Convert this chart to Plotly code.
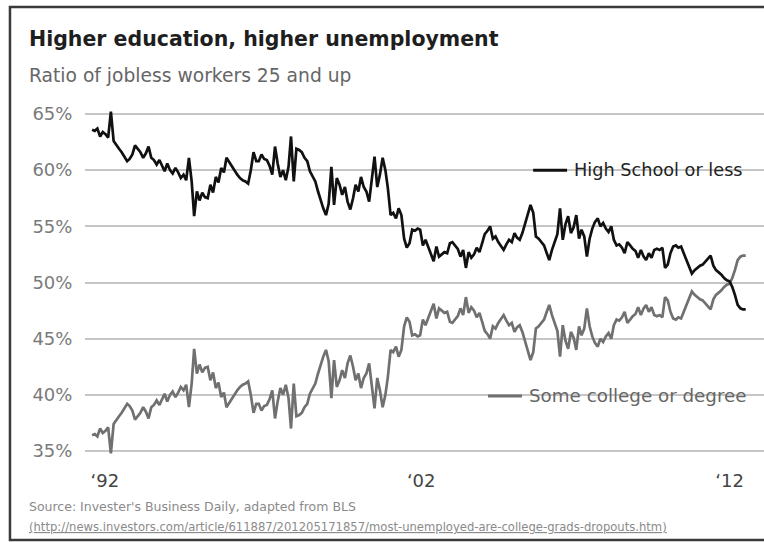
import pandas as pd
import plotly.graph_objects as go

# monthly values, Jan 1992 onward
high_school = [
    63.6, 63.5, 63.7, 63.0, 63.4, 63.2, 62.9, 65.2, 62.6, 62.2,
    61.9, 61.6, 61.2, 60.8, 61.0, 61.4, 62.2, 61.9, 61.6, 61.1,
    61.5, 62.1, 61.1, 60.9, 60.5, 60.9, 60.4, 59.9, 60.6, 60.0,
    59.7, 60.2, 59.8, 59.3, 59.6, 59.1, 61.1, 59.0, 55.9, 58.1,
    57.3, 58.0, 57.6, 57.5, 58.7, 58.0, 59.4, 58.9, 60.2, 59.8,
    61.1, 60.7, 60.3, 59.9, 59.6, 59.3, 59.1, 59.0, 58.8, 60.0,
    61.6, 60.8, 60.8, 61.4, 61.0, 60.9, 60.4, 59.6, 62.1, 60.6,
    59.4, 60.0, 59.1, 60.3, 63.0, 59.0, 61.9, 61.8, 61.6, 61.1,
    60.8, 59.9, 59.4, 59.0, 58.1, 57.2, 56.6, 56.0, 57.0, 60.3,
    56.9, 59.3, 58.7, 57.8, 58.5, 57.2, 56.5, 57.5, 58.7, 58.1,
    59.4, 58.5, 58.1, 57.2, 59.0, 61.2, 58.5, 59.6, 61.1, 60.0,
    58.4, 56.0, 56.2, 55.7, 56.6, 56.0, 53.9, 53.1, 53.5, 54.7,
    54.6, 54.8, 54.7, 53.3, 53.8, 53.1, 52.5, 51.9, 53.2, 52.3,
    52.5, 52.7, 52.6, 53.5, 53.6, 53.3, 53.0, 52.3, 52.9, 51.3,
    52.7, 52.2, 52.5, 53.1, 52.7, 53.5, 54.3, 54.6, 55.0, 53.9,
    54.1, 53.6, 53.2, 52.9, 53.4, 53.8, 53.6, 54.4, 54.0, 53.8,
    54.4, 55.2, 55.9, 56.9, 56.2, 54.1, 53.9, 53.6, 53.3, 52.6,
    52.0, 52.9, 53.6, 54.3, 56.6, 53.8, 55.2, 55.9, 54.4, 54.9,
    56.0, 53.9, 54.7, 54.1, 52.3, 53.9, 54.8, 55.4, 55.7, 55.0,
    55.3, 54.8, 54.5, 55.0, 53.8, 53.3, 53.4, 53.1, 52.6, 53.6,
    53.3, 53.0, 52.8, 52.2, 52.9, 52.3, 52.0, 52.6, 52.2, 52.9,
    53.0, 52.9, 53.1, 51.3, 51.6, 52.6, 53.2, 53.3, 53.1, 53.2,
    52.6, 52.0, 51.3, 50.8, 51.1, 51.3, 51.5, 51.6, 51.9, 52.2,
    52.4, 51.5, 51.1, 50.9, 50.7, 50.4, 50.2, 50.1, 49.6, 48.9,
    48.0, 47.7, 47.6, 47.6,
]

some_college = [
    36.4, 36.5, 36.3, 37.0, 36.6, 36.8, 37.1, 34.8, 37.4, 37.8,
    38.1, 38.4, 38.8, 39.2, 39.0, 38.6, 37.8, 38.1, 38.4, 38.9,
    38.5, 37.9, 38.9, 39.1, 39.5, 39.1, 39.6, 40.1, 39.4, 40.0,
    40.3, 39.8, 40.2, 40.7, 40.4, 40.9, 38.9, 41.0, 44.1, 41.9,
    42.7, 42.0, 42.4, 42.5, 41.3, 42.0, 40.6, 41.1, 39.8, 40.2,
    38.9, 39.3, 39.7, 40.1, 40.4, 40.7, 40.9, 41.0, 41.2, 40.0,
    38.4, 39.2, 39.2, 38.6, 39.0, 39.1, 39.6, 40.4, 37.9, 39.4,
    40.6, 40.0, 40.9, 39.7, 37.0, 41.0, 38.1, 38.2, 38.4, 38.9,
    39.2, 40.1, 40.6, 41.0, 41.9, 42.8, 43.4, 44.0, 43.0, 39.7,
    43.1, 40.7, 41.3, 42.2, 41.5, 42.8, 43.5, 42.5, 41.3, 41.9,
    40.6, 41.5, 41.9, 42.8, 41.0, 38.8, 41.5, 40.4, 38.9, 40.0,
    41.6, 44.0, 43.8, 44.3, 43.4, 44.0, 46.1, 46.9, 46.5, 45.3,
    45.4, 45.2, 45.3, 46.7, 46.2, 46.9, 47.5, 48.1, 46.8, 47.7,
    47.5, 47.3, 47.4, 46.5, 46.4, 46.7, 47.0, 47.7, 47.1, 48.7,
    47.3, 47.8, 47.5, 46.9, 47.3, 46.5, 45.7, 45.4, 45.0, 46.1,
    45.9, 46.4, 46.8, 47.1, 46.6, 46.2, 46.4, 45.6, 46.0, 46.2,
    45.6, 44.8, 44.1, 43.1, 43.8, 45.9, 46.1, 46.4, 46.7, 47.4,
    48.0, 47.1, 46.4, 45.7, 43.4, 46.2, 44.8, 44.1, 45.6, 45.1,
    44.0, 46.1, 45.3, 45.9, 47.7, 46.1, 45.2, 44.6, 44.3, 45.0,
    44.7, 45.2, 45.5, 45.0, 46.2, 46.7, 46.6, 46.9, 47.4, 46.4,
    46.7, 47.0, 47.2, 47.8, 47.1, 47.7, 48.0, 47.4, 47.8, 47.1,
    47.0, 47.1, 46.9, 48.7, 48.4, 47.4, 46.8, 46.7, 46.9, 46.8,
    47.4, 48.0, 48.7, 49.2, 48.9, 48.7, 48.5, 48.4, 48.1, 47.8,
    47.6, 48.5, 48.9, 49.1, 49.3, 49.6, 49.8, 49.9, 50.4, 51.1,
    52.0, 52.3, 52.4, 52.4,
]

months = pd.date_range("1992-01-01", periods=len(high_school), freq="MS")

y_ticks = [35, 40, 45, 50, 55, 60, 65]
y_labels = ["35%", "40%", "45%", "50%", "55%", "60%", "65%"]
x_ticks = ["1992-05-25", "2002-03-13", "2011-10-01"]
x_labels = ["\u201892", "\u201802", "\u201812"]

FONT = "DejaVu Sans, Arial, sans-serif"

fig = go.Figure()
fig.add_trace(go.Scatter(x=months, y=some_college, mode="lines", name="Some college or degree",
                         line=dict(color="#707070", width=2.7)))
fig.add_trace(go.Scatter(x=months, y=high_school, mode="lines", name="High School or less",
                         line=dict(color="#111111", width=2.7)))

# white patches behind the inline labels, they cut the gridlines
fig.add_shape(type="rect", xref="paper", yref="y", x0=0.623, x1=1.0, y0=59.1, y1=60.9,
              fillcolor="white", line_width=0, layer="between")
fig.add_shape(type="rect", xref="paper", yref="y", x0=0.557, x1=1.0, y0=39.1, y1=40.9,
              fillcolor="white", line_width=0, layer="between")
fig.add_shape(type="line", xref="paper", yref="y", x0=0.660, x1=0.710, y0=60, y1=60,
              line=dict(color="#111111", width=3))
fig.add_shape(type="line", xref="paper", yref="y", x0=0.5935, x1=0.6436, y0=39.9, y1=39.9,
              line=dict(color="#707070", width=3))
fig.add_annotation(x=0.717, y=60, xref="paper", yref="y", xanchor="left", yanchor="middle",
                   text="High School or less", showarrow=False,
                   font=dict(family=FONT, size=17.7, color="#222222"))
fig.add_annotation(x=0.651, y=39.9, xref="paper", yref="y", xanchor="left", yanchor="middle",
                   text="Some college or degree", showarrow=False,
                   font=dict(family=FONT, size=18.3, color="#666666"))

# titles and source
fig.add_annotation(x=-0.0855, y=1.186, xref="paper", yref="paper", xanchor="left", yanchor="middle",
                   text="<b>Higher education, higher unemployment</b>", showarrow=False,
                   font=dict(family=FONT, size=20.5, color="#1e1e1e"))
fig.add_annotation(x=-0.0855, y=1.082, xref="paper", yref="paper", xanchor="left", yanchor="middle",
                   text="Ratio of jobless workers 25 and up", showarrow=False,
                   font=dict(family=FONT, size=18.7, color="#666666"))
fig.add_annotation(x=-0.0855, y=-0.131, xref="paper", yref="paper", xanchor="left", yanchor="middle",
                   text="Source: Invester's Business Daily, adapted from BLS", showarrow=False,
                   font=dict(family=FONT, size=12.5, color="#8a8a8a"))
fig.add_annotation(x=-0.0855, y=-0.190, xref="paper", yref="paper", xanchor="left", yanchor="middle",
                   text="<u>(http://news.investors.com/article/611887/201205171857/most-unemployed-are-college-grads-dropouts.htm)</u>",
                   showarrow=False, font=dict(family=FONT, size=11.6, color="#8a8a8a"))

# outer frame (left, top, bottom; the right side is cropped off)
fig.add_shape(type="path", xref="paper", yref="paper",
              path="M 1.0 1.276 L -0.1105 1.276 L -0.1105 -0.225 L 1.0 -0.225",
              line=dict(color="#3a3a3a", width=2.5))

fig.update_xaxes(range=["1991-10-13", "2012-10-25"], tickvals=x_ticks, ticktext=x_labels,
                 showgrid=False, zeroline=False, showline=False,
                 ticks="outside", ticklen=4, tickcolor="rgba(0,0,0,0)",
                 tickfont=dict(family=FONT, size=18, color="#444444"))
fig.update_yaxes(range=[34.2, 65.8], tickvals=y_ticks, ticktext=y_labels,
                 showgrid=True, gridcolor="#c6c6c6", gridwidth=2,
                 zeroline=False, showline=False,
                 ticks="outside", ticklen=8, tickcolor="rgba(0,0,0,0)",
                 tickfont=dict(family=FONT, size=18, color="#7a7a7a"))

fig.update_layout(width=764, height=542, autosize=False,
                  margin=dict(l=85, r=0, t=105, b=82),
                  paper_bgcolor="white", plot_bgcolor="white",
                  showlegend=False)

fig.write_html("out.html", config={"displayModeBar": False},
               post_script="document.body.style.margin='0';document.body.style.overflow='hidden';")
